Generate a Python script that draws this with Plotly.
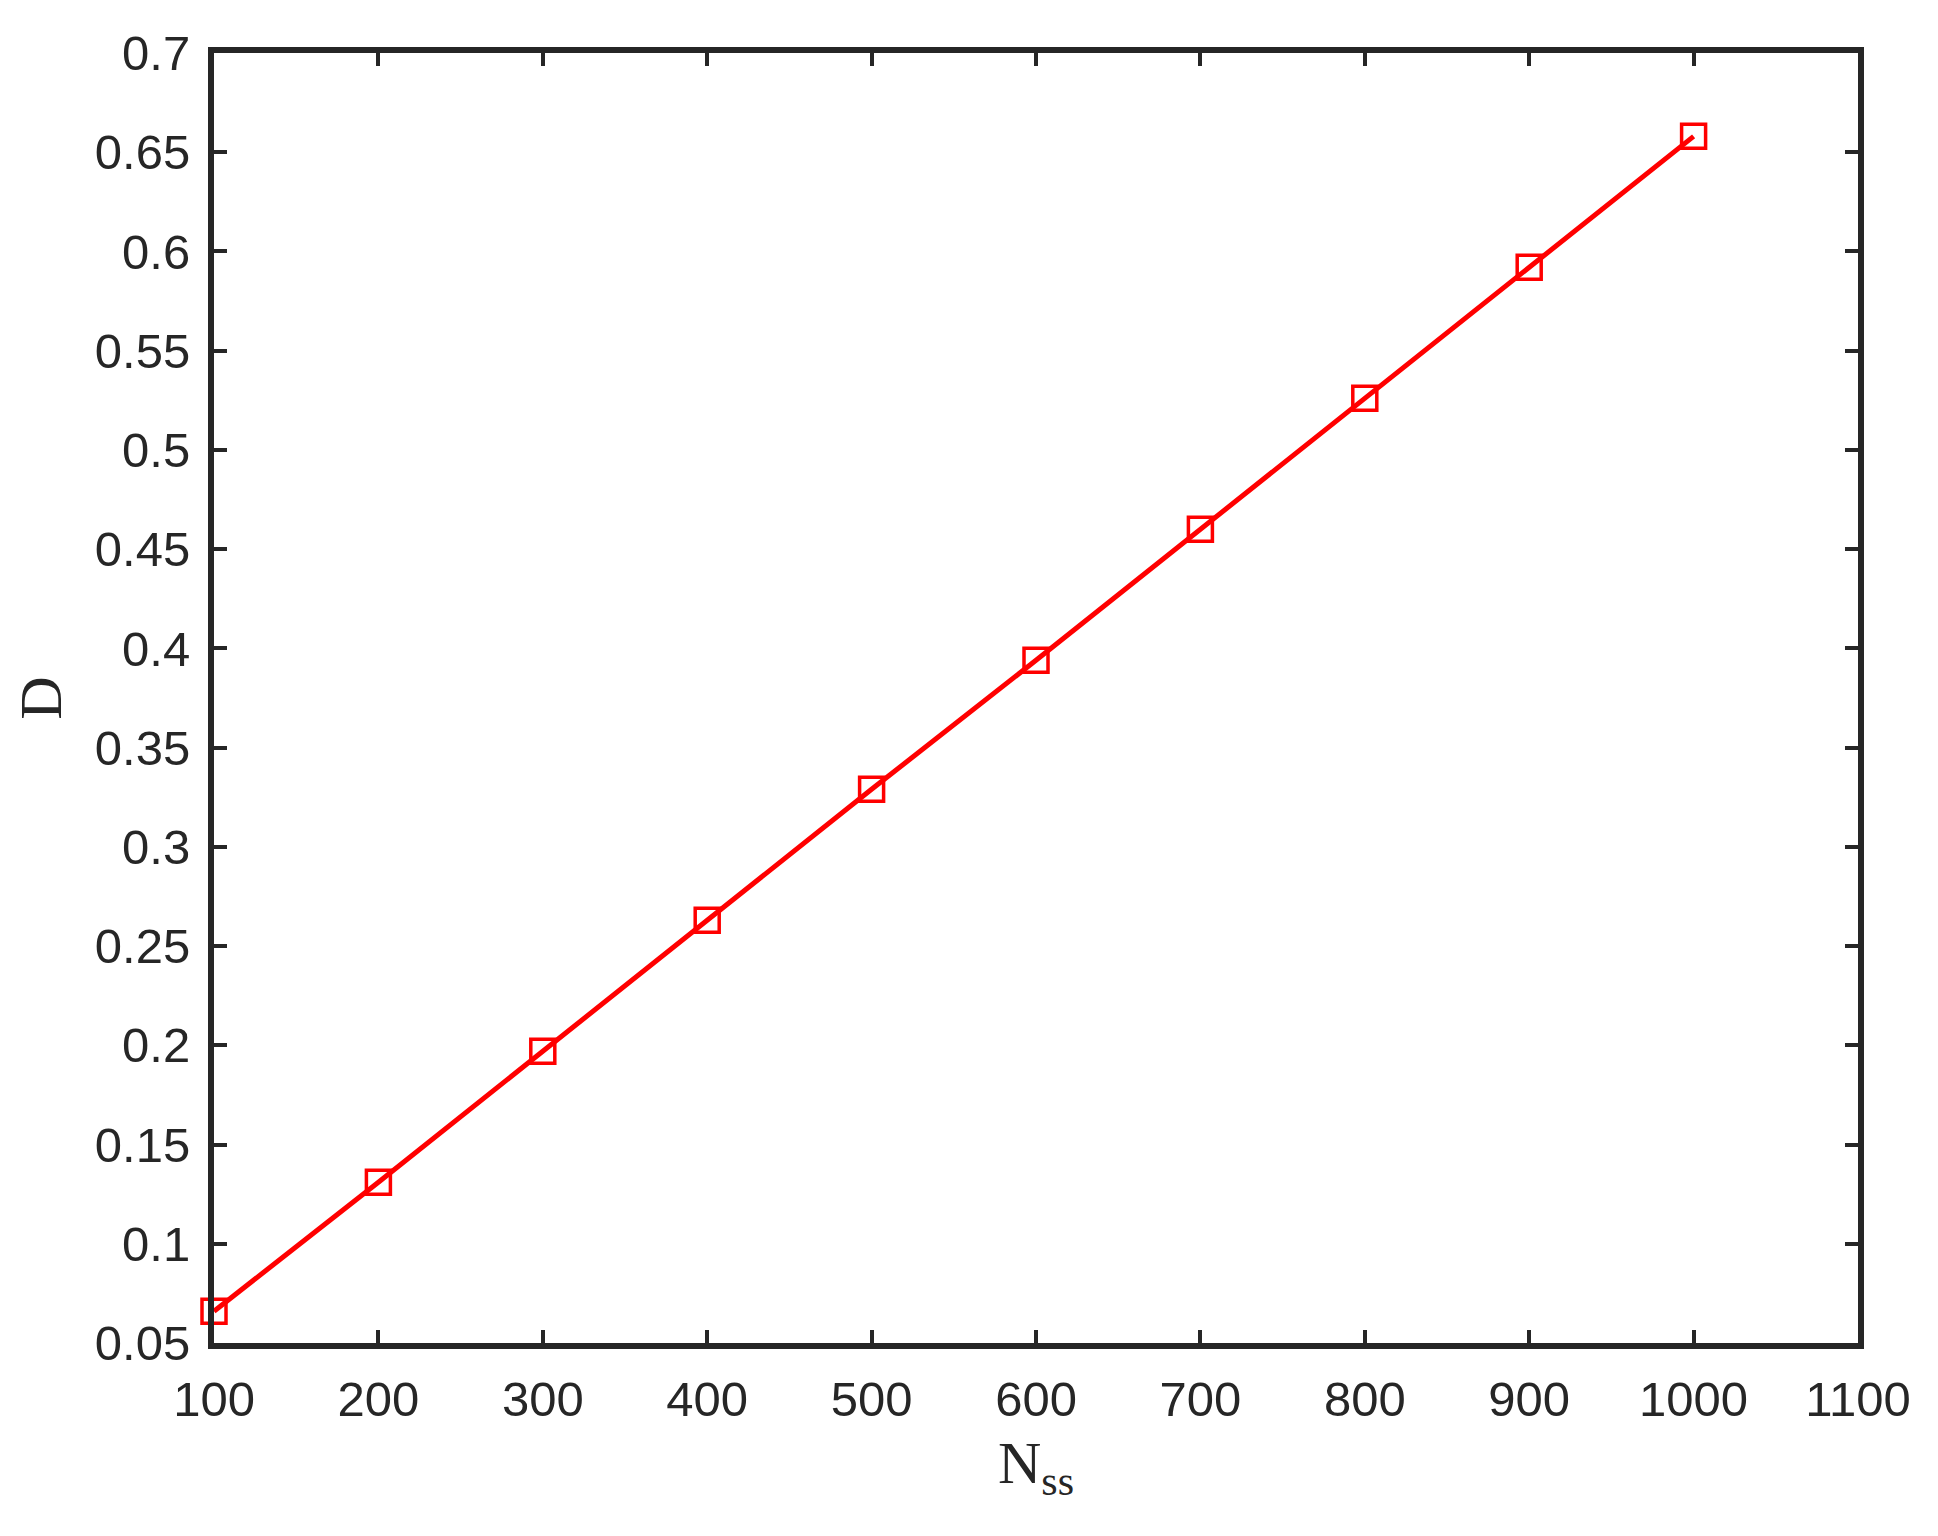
import plotly.graph_objects as go

# Data
n_ss = [100, 200, 300, 400, 500, 600, 700, 800, 900, 1000]
d_vals = [0.066, 0.131, 0.197, 0.263, 0.329, 0.394, 0.460, 0.526, 0.592, 0.658]

x_ticks = [100, 200, 300, 400, 500, 600, 700, 800, 900, 1000, 1100]
x_ticktext = ["100", "200", "300", "400", "500", "600", "700", "800", "900", "1000", "1100"]
y_ticks = [0.05, 0.1, 0.15, 0.2, 0.25, 0.3, 0.35, 0.4, 0.45, 0.5, 0.55, 0.6, 0.65, 0.7]
y_ticktext = ["0.05", "0.1", "0.15", "0.2", "0.25", "0.3", "0.35", "0.4", "0.45",
              "0.5", "0.55", "0.6", "0.65", "0.7"]

AX = "#262626"

fig = go.Figure()
fig.add_trace(go.Scatter(
    x=n_ss, y=d_vals, mode="lines+markers",
    line=dict(color="#ff0000", width=5),
    marker=dict(symbol="square-open", size=24, color="#ff0000",
                line=dict(color="#ff0000", width=3.5)),
    cliponaxis=False, showlegend=False,
))

axis_common = dict(
    showline=True, linewidth=6, linecolor=AX, mirror="ticks",
    ticks="inside", ticklen=13, tickwidth=4, tickcolor=AX,
    showgrid=False, zeroline=False, ticklabelstandoff=8,
    tickfont=dict(family="Liberation Sans, Arial, sans-serif", size=49, color=AX),
)

fig.update_layout(
    width=1938, height=1536,
    margin=dict(l=206, r=88, t=45, b=201),
    paper_bgcolor="white", plot_bgcolor="white",
    xaxis=dict(range=[100, 1100], tickvals=x_ticks, ticktext=x_ticktext,
               title=dict(text="N<sub>ss</sub>",
                          font=dict(family="Liberation Serif, Times New Roman, serif", size=60, color=AX),
                          standoff=18),
               **axis_common),
    yaxis=dict(range=[0.05, 0.7], tickvals=y_ticks, ticktext=y_ticktext,
               title=dict(text="D",
                          font=dict(family="Liberation Serif, Times New Roman, serif", size=60, color=AX),
                          standoff=16),
               **axis_common),
)

fig.write_html("out.html")
